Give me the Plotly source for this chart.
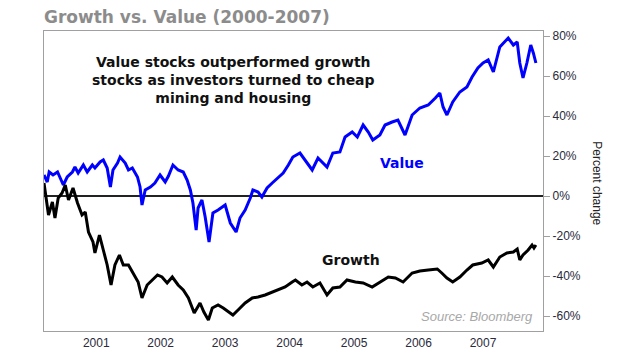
import plotly.graph_objects as go

# Decimal-year positions and percent change
value_t = [2000.19, 2000.24, 2000.27, 2000.33, 2000.40, 2000.44, 2000.49, 2000.55, 2000.63, 2000.67,
           2000.72, 2000.80, 2000.86, 2000.94, 2000.98, 2001.06, 2001.11, 2001.17, 2001.22, 2001.26,
           2001.33, 2001.37, 2001.45, 2001.50, 2001.56, 2001.64, 2001.68, 2001.71, 2001.76, 2001.84,
           2001.91, 2001.99, 2002.07, 2002.12, 2002.19, 2002.27, 2002.35, 2002.41, 2002.46, 2002.50,
           2002.55, 2002.58, 2002.64, 2002.69, 2002.75, 2002.81, 2002.89, 2003.00, 2003.08, 2003.17,
           2003.23, 2003.31, 2003.39, 2003.43, 2003.51, 2003.57, 2003.65, 2003.73, 2003.82, 2003.90,
           2003.98, 2004.05, 2004.16, 2004.24, 2004.35, 2004.44, 2004.58, 2004.67, 2004.78, 2004.86,
           2004.97, 2005.05, 2005.14, 2005.22, 2005.29, 2005.40, 2005.48, 2005.59, 2005.68, 2005.79,
           2005.90, 2006.02, 2006.15, 2006.26, 2006.33, 2006.38, 2006.44, 2006.53, 2006.64, 2006.75,
           2006.83, 2006.92, 2007.00, 2007.08, 2007.16, 2007.26, 2007.39, 2007.47, 2007.53, 2007.57,
           2007.62, 2007.68, 2007.74, 2007.78, 2007.82]
value_pct = [10.5, 7, 12, 10.5, 12, 9, 5.5, 9.5, 12, 14.5,
             11.5, 15.5, 12, 15.5, 14, 17, 18, 14, 4.5, 13,
             16.5, 19.5, 16.5, 13, 14, 9.5, 4.5, -4.5, 3, 4.5,
             6.5, 10.5, 7, 10, 15.5, 13, 12, 8, 3, -3.5,
             -17, -6, -2, -10.5, -23, -8.5, -7, -4.5, -13.5, -18,
             -11, -7, -1, 3, 2, -0.5, 4, 6.5, 9, 11.5,
             15.5, 19.5, 21.5, 18, 13, 19, 14.5, 21.5, 22, 29.5,
             32, 29.5, 35.5, 32, 28, 30.5, 35.5, 37, 38, 30.5,
             40.5, 44, 45.5, 49, 51.5, 44.5, 40.5, 47, 52, 54.5,
             59.5, 64, 66.5, 68, 62, 74.5, 79, 75.5, 77, 66.5,
             59, 66.5, 75.5, 71.5, 66.5]

growth_t = [2000.19, 2000.22, 2000.26, 2000.32, 2000.36, 2000.41, 2000.47, 2000.52, 2000.57, 2000.64,
            2000.71, 2000.78, 2000.83, 2000.88, 2000.95, 2000.98, 2001.05, 2001.11, 2001.17, 2001.23,
            2001.29, 2001.36, 2001.42, 2001.50, 2001.57, 2001.65, 2001.71, 2001.79, 2001.87, 2001.95,
            2002.02, 2002.10, 2002.18, 2002.27, 2002.35, 2002.43, 2002.52, 2002.61, 2002.67, 2002.74,
            2002.80, 2002.89, 2002.97, 2003.05, 2003.12, 2003.20, 2003.31, 2003.42, 2003.51, 2003.62,
            2003.73, 2003.82, 2003.93, 2004.04, 2004.09, 2004.19, 2004.27, 2004.36, 2004.47, 2004.58,
            2004.67, 2004.78, 2004.89, 2005.02, 2005.14, 2005.28, 2005.40, 2005.53, 2005.64, 2005.76,
            2005.90, 2006.02, 2006.15, 2006.29, 2006.36, 2006.44, 2006.53, 2006.64, 2006.75, 2006.84,
            2006.98, 2007.08, 2007.16, 2007.26, 2007.37, 2007.47, 2007.53, 2007.57, 2007.62, 2007.70,
            2007.76, 2007.79, 2007.82]
growth_pct = [6.5, 0.5, -9.5, -3, -11, -1, 1.5, 5.5, -2, 4,
              -3.5, -9.5, -8, -18, -23, -28.5, -19.5, -27, -34.5, -44.5,
              -34.5, -29.5, -34.5, -34.5, -38.5, -43, -51, -44.5, -42, -39.5,
              -40.5, -43.5, -40.5, -44.5, -47, -51, -58.5, -53.5, -58, -62,
              -56, -54.5, -56, -58, -59.5, -57, -53.5, -51, -50.5, -49.5,
              -48, -47, -45.5, -43, -42, -44.5, -43, -45.5, -43.5, -49.5,
              -46, -45.5, -42, -43, -43.5, -45.5, -43, -40.5, -41, -43,
              -38.5, -37.5, -37, -36.5, -38.5, -41, -43, -40.5, -37, -34.5,
              -33.5, -32, -35.5, -30.5, -28.5, -28, -26.5, -32, -29.5, -27,
              -24.5, -26, -24.5]

year_ticks = [2001, 2002, 2003, 2004, 2005, 2006, 2007]
year_labels = ["2001", "2002", "2003", "2004", "2005", "2006", "2007"]
pct_ticks = [-60, -40, -20, 0, 20, 40, 60, 80]
pct_labels = ["-60%", "-40%", "-20%", "0%", "20%", "40%", "60%", "80%"]

fig = go.Figure()
fig.add_trace(go.Scatter(x=value_t, y=value_pct, mode="lines", name="Value",
                         line=dict(color="#0000ff", width=3)))
fig.add_trace(go.Scatter(x=growth_t, y=growth_pct, mode="lines", name="Growth",
                         line=dict(color="#000000", width=3)))

fig.update_layout(
    width=632, height=348,
    margin=dict(l=36, r=97, t=23, b=25),
    paper_bgcolor="white", plot_bgcolor="white",
    showlegend=False,
    title=dict(text="<b>Growth vs. Value (2000-2007)</b>", x=0, xref="paper", xanchor="left",
               y=0.974, yref="container", yanchor="middle",
               font=dict(family="DejaVu Sans", size=17, color="#8c8c8c")),
    xaxis=dict(range=[2000.19, 2007.93], tickvals=year_ticks, ticktext=year_labels,
               showgrid=False, zeroline=False, showline=True, mirror=True, automargin=False,
               linecolor="#a0a0a0", linewidth=1.2, ticks="",
               tickfont=dict(family="Liberation Sans", size=12, color="#2a2a3a")),
    yaxis=dict(range=[-67.5, 82.5], tickvals=pct_ticks, ticktext=pct_labels, side="right",
               showgrid=False, zeroline=True, zerolinecolor="#222", zerolinewidth=1.5,
               showline=True, mirror=True, automargin=False, linecolor="#a0a0a0", linewidth=1.2,
               ticks="outside", ticklen=6, tickcolor="#a0a0a0",
               tickfont=dict(family="Liberation Sans", size=12, color="#2a2a3a")),
)

fig.add_annotation(text="<b>Value stocks outperformed growth<br>stocks as investors turned to cheap<br>mining and housing</b>",
                   xref="paper", yref="paper", x=0.379, y=0.837, xanchor="center", yanchor="middle",
                   showarrow=False, align="center",
                   font=dict(family="DejaVu Sans", size=14, color="#111"))
fig.add_annotation(text="<b>Value</b>", x=2005.74, y=16.5, showarrow=False,
                   font=dict(family="DejaVu Sans", size=14, color="#0000ff"))
fig.add_annotation(text="<b>Growth</b>", x=2004.95, y=-32, showarrow=False,
                   font=dict(family="DejaVu Sans", size=14, color="#111"))
fig.add_annotation(text="<i>Source: Bloomberg</i>", xref="paper", yref="paper", x=0.984, y=0.047,
                   xanchor="right", yanchor="middle", showarrow=False,
                   font=dict(family="Liberation Sans", size=13, color="#a8a8a8"))
fig.add_annotation(text="Percent change", xref="paper", yref="paper", x=1.108, y=0.493,
                   xanchor="center", yanchor="middle", textangle=90, showarrow=False,
                   font=dict(family="Liberation Sans", size=12, color="#222"))

fig.write_html("out.html")
